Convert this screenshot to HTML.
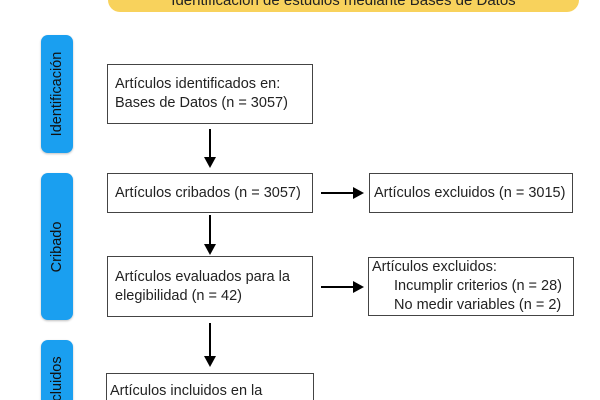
<!DOCTYPE html>
<html style="width:600px;height:400px;overflow:hidden"><head><meta charset="utf-8"><style>
body{margin:0;width:600px;height:400px;background:#fff;position:relative;overflow:hidden;font-family:"Liberation Sans",sans-serif;color:#222}
.banw{position:absolute;left:108px;top:0;width:471px;height:12px;overflow:hidden}
.ban{position:absolute;left:0;top:-28px;width:471px;height:40px;background:#f8d25c;border-radius:12px;text-align:center;font-size:15px;line-height:58px;white-space:nowrap}
.side{position:absolute;left:41px;width:32px;background:#1a9ff0;border-radius:7px;box-shadow:0 1px 2px rgba(0,0,0,.25);overflow:hidden}
.side span{position:absolute;left:50%;top:50%;transform:translate(-50%,-50%) rotate(-90deg);white-space:nowrap;font-size:14.5px;color:#111}
.box{position:absolute;border:1px solid #444;box-sizing:border-box;font-size:14.5px;line-height:19px;padding-left:7px;display:flex;flex-direction:column;justify-content:center;background:#fff;white-space:nowrap;overflow:hidden}
.v{position:absolute;width:2px;background:#000}
.v:after{content:"";position:absolute;left:-5px;bottom:-2px;border-left:6px solid transparent;border-right:6px solid transparent;border-top:11px solid #000}
.h{position:absolute;height:2px;background:#000}
.h:after{content:"";position:absolute;right:-2px;top:-5px;border-top:6px solid transparent;border-bottom:6px solid transparent;border-left:11px solid #000}
</style></head><body>
<div class="banw"><div class="ban">Identificación de estudios mediante Bases de Datos</div></div>
<div class="side" style="top:35px;height:118px"><span>Identificación</span></div>
<div class="side" style="top:173px;height:147px"><span>Cribado</span></div>
<div class="side" style="top:340px;height:60px;border-radius:7px 7px 0 0"><span style="top:75%">Incluidos</span></div>
<div class="box" style="left:107px;top:64px;width:206px;height:60px">Artículos identificados en:<br>Bases de Datos (n = 3057)</div>
<div class="v" style="left:209px;top:129px;height:37px"></div>
<div class="box" style="left:107px;top:173px;width:206px;height:40px">Artículos cribados (n = 3057)</div>
<div class="h" style="left:321px;top:192px;width:41px"></div>
<div class="box" style="left:369px;top:173px;width:204px;height:40px;padding-left:4px">Artículos excluidos (n = 3015)</div>
<div class="v" style="left:209px;top:215px;height:38px"></div>
<div class="box" style="left:107px;top:256px;width:206px;height:61px">Artículos evaluados para la<br>elegibilidad (n = 42)</div>
<div class="h" style="left:321px;top:286px;width:41px"></div>
<div class="box" style="left:368px;top:257px;width:206px;height:59px;padding-left:3px">Artículos excluidos:<br><span style="padding-left:22px">Incumplir criterios (n = 28)</span><span style="padding-left:22px">No medir variables (n = 2)</span></div>
<div class="v" style="left:209px;top:323px;height:42px"></div>
<div class="box" style="left:106px;top:373px;width:208px;height:27px;border-bottom:none;justify-content:flex-start;padding-left:3px;padding-top:8px">Artículos incluidos en la</div>
</body></html>
